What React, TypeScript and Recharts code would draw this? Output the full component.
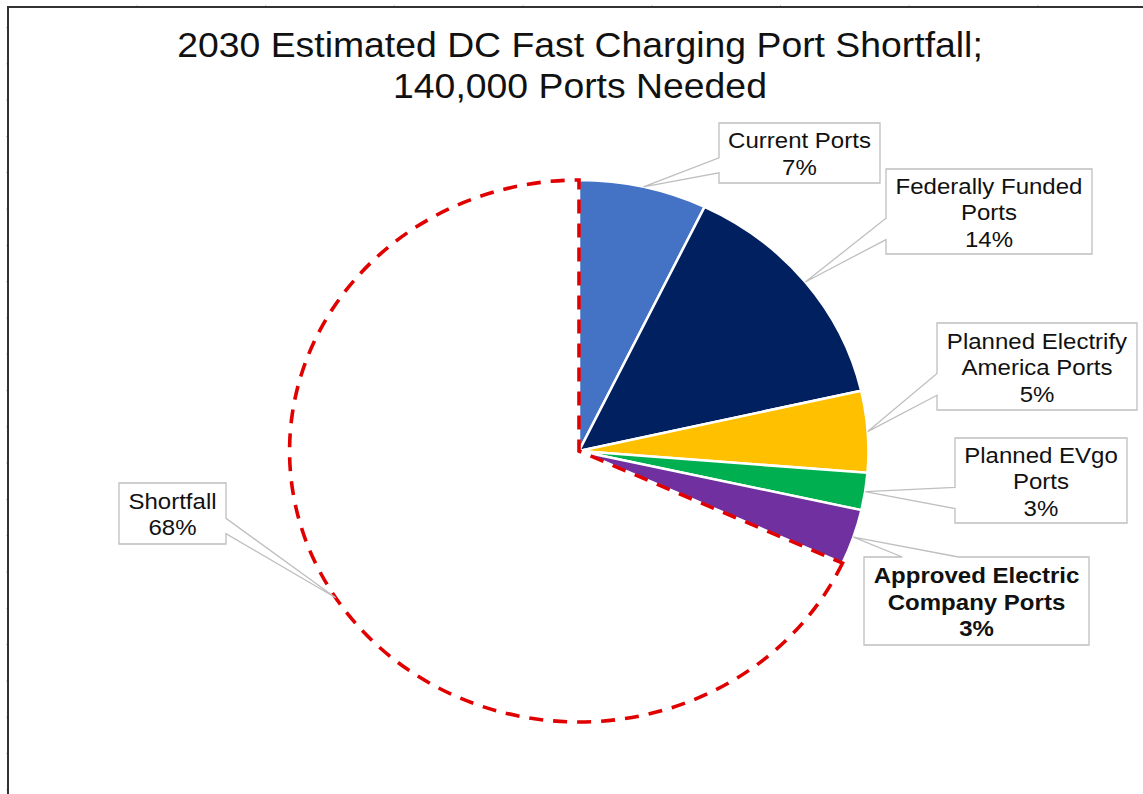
import React from "react";
import { PieChart, Pie, Sector, Customized } from "recharts";

// ---- data ----
const categories = [
  "Current Ports",
  "Federally Funded Ports",
  "Planned Electrify America Ports",
  "Planned EVgo Ports",
  "Approved Electric Company Ports",
  "Shortfall",
];
const portCounts = [10000, 20000, 6800, 3100, 4600, 95500];
const labelLines = [
  ["Current Ports", "7%"],
  ["Federally Funded", "Ports", "14%"],
  ["Planned Electrify", "America Ports", "5%"],
  ["Planned EVgo", "Ports", "3%"],
  ["Approved Electric", "Company Ports", "3%"],
  ["Shortfall", "68%"],
];
const titleLines = ["2030 Estimated DC Fast Charging Port Shortfall;", "140,000 Ports Needed"];

// ---- styling ----
const colors = ["#4472C4", "#002060", "#FFC000", "#00B050", "#7030A0", "#FFFFFF"];
const W = 1143;
const H = 794;
const CX = 579;
const CY = 451;
const R = 271;
const SX = 1.068; // horizontal stretch of the whole picture
const FONT = "'Liberation Sans', Arial, sans-serif";

// callout boxes relative to pie centre: dx, dy, w, h, side of the pointer
const boxLayout = [
  { dx: 140, dy: -328, w: 161, h: 60, side: "left", bold: false },
  { dx: 307, dy: -282, w: 206, h: 85, side: "left", bold: false },
  { dx: 358, dy: -128, w: 200, h: 87, side: "left", bold: false },
  { dx: 376, dy: -13, w: 172, h: 85, side: "left", bold: false },
  { dx: 285, dy: 106, w: 225, h: 88, side: "top", bold: true },
  { dx: -460, dy: 32, w: 107, h: 61, side: "right", bold: false },
];

const data = categories.map((name, i) => ({ name, value: portCounts[i] }));

const RAD = Math.PI / 180;

const stretch = (x: number) => `translate(${x},0) scale(${SX},1) translate(${-x},0)`;

const renderShape = (props: any) => {
  const { cx, cy } = props;
  const name = props.name ?? props.payload?.name;
  const isShortfall = name === "Shortfall";
  return (
    <g transform={`translate(${cx},${cy}) scale(${SX},1) translate(${-cx},${-cy})`}>
      <Sector
        cx={cx}
        cy={cy}
        innerRadius={0}
        outerRadius={props.outerRadius}
        startAngle={props.startAngle}
        endAngle={props.endAngle}
        fill={isShortfall ? "#FFFFFF" : props.fill}
        stroke={isShortfall ? "#E00000" : "#FFFFFF"}
        strokeWidth={isShortfall ? 3.6 : 2.5}
        strokeDasharray={isShortfall ? "14 10" : undefined}
        style={{ vectorEffect: "non-scaling-stroke" } as any}
      />
    </g>
  );
};

const renderLabel = (props: any) => {
  const { cx, cy, midAngle, outerRadius, index } = props;
  const lay = boxLayout[index];
  const tx = cx + Math.cos(-midAngle * RAD) * outerRadius * SX;
  const ty = cy + Math.sin(-midAngle * RAD) * outerRadius;
  const x0 = cx + lay.dx;
  const y0 = cy + lay.dy;
  const x1 = x0 + lay.w;
  const y1 = y0 + lay.h;
  let d = "";
  if (lay.side === "left") {
    const b1 = y0 + 0.58 * lay.h;
    const b2 = y0 + 0.83 * lay.h;
    d = `M${x0},${y0} L${x1},${y0} L${x1},${y1} L${x0},${y1} L${x0},${b2} L${tx},${ty} L${x0},${b1} Z`;
  } else if (lay.side === "right") {
    const b1 = y0 + 0.58 * lay.h;
    const b2 = y0 + 0.83 * lay.h;
    d = `M${x0},${y0} L${x1},${y0} L${x1},${b1} L${tx},${ty} L${x1},${b2} L${x1},${y1} L${x0},${y1} Z`;
  } else {
    const b1 = x0 + 0.17 * lay.w;
    const b2 = x0 + 0.42 * lay.w;
    d = `M${x0},${y0} L${b1},${y0} L${tx},${ty} L${b2},${y0} L${x1},${y0} L${x1},${y1} L${x0},${y1} Z`;
  }
  const lines = labelLines[index];
  const mx = (x0 + x1) / 2;
  const my = (y0 + y1) / 2 + 1;
  return (
    <g key={`lab-${index}`}>
      <path d={d} fill="#FFFFFF" stroke="#BFBFBF" strokeWidth={1.3} />
      <g transform={stretch(mx)}>
        {lines.map((t, i) => (
          <text
            key={i}
            x={mx}
            y={my + (i - (lines.length - 1) / 2) * 26.5}
            textAnchor="middle"
            dominantBaseline="central"
            fontFamily={FONT}
            fontSize={22.5}
            fontWeight={lay.bold ? 700 : 400}
            fill="#111111"
          >
            {t}
          </text>
        ))}
      </g>
    </g>
  );
};

const Frame = () => {
  const leftTicks: number[] = [];
  for (let y = 27.5; y < H; y += 36.3) leftTicks.push(y);
  const topTicks: number[] = [];
  for (let x = 137; x < W; x += 128.7) topTicks.push(x);
  return (
    <g>
      {leftTicks.map((y, i) => (
        <line key={`l${i}`} x1={6} x2={8} y1={y} y2={y} stroke="#C8C8C8" strokeWidth={1} />
      ))}
      {topTicks.map((x, i) => (
        <line key={`t${i}`} x1={x} x2={x} y1={5} y2={7} stroke="#C8C8C8" strokeWidth={1} />
      ))}
      <line x1={8} x2={8} y1={6} y2={H} stroke="#333333" strokeWidth={2} />
      <line x1={7} x2={W} y1={7} y2={7} stroke="#333333" strokeWidth={2} />
      <g transform={stretch(580)}>
        {titleLines.map((t, i) => (
          <text
            key={`title${i}`}
            x={580}
            y={57 + i * 41}
            textAnchor="middle"
            fontFamily={FONT}
            fontSize={35}
            fill="#111111"
          >
            {t}
          </text>
        ))}
      </g>
    </g>
  );
};

export default function App() {
  const cells = data.map((d, i) => ({ ...d, fill: colors[i] }));
  return (
    <div style={{ position: "absolute", left: 0, top: 0, width: W, height: H, background: "#FFFFFF" }}>
      <PieChart width={W} height={H} margin={{ top: 0, right: 0, bottom: 0, left: 0 }}>
        <Customized component={Frame} />
        <Pie
          data={cells}
          dataKey="value"
          nameKey="name"
          cx={CX}
          cy={CY}
          innerRadius={0}
          outerRadius={R}
          startAngle={90}
          endAngle={-270}
          paddingAngle={0}
          isAnimationActive={false}
          shape={renderShape}
          label={renderLabel}
          labelLine={false}
          stroke="#FFFFFF"
        />
      </PieChart>
    </div>
  );
}
